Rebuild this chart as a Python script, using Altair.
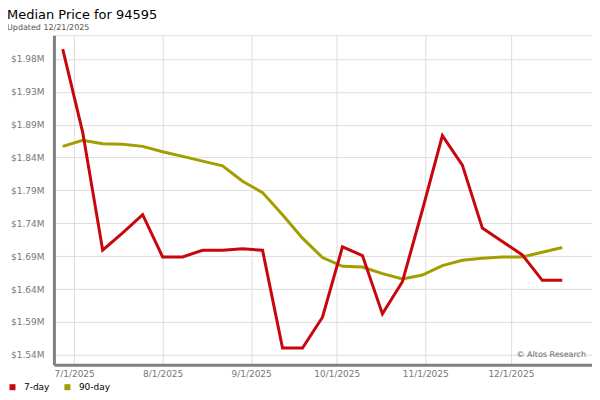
import altair as alt
import pandas as pd

# ---- data ----
dates = [
    "2025-06-27", "2025-07-04", "2025-07-11", "2025-07-18", "2025-07-25",
    "2025-08-01", "2025-08-08", "2025-08-15", "2025-08-22", "2025-08-29",
    "2025-09-05", "2025-09-12", "2025-09-19", "2025-09-26", "2025-10-03",
    "2025-10-10", "2025-10-17", "2025-10-24", "2025-10-31", "2025-11-07",
    "2025-11-14", "2025-11-21", "2025-11-28", "2025-12-05", "2025-12-12",
    "2025-12-19",
]
seven_day = [
    1998000, 1874000, 1698000, 1724000, 1751000, 1688000, 1688000, 1698000,
    1698000, 1700000, 1698000, 1552000, 1552000, 1598000, 1703000, 1690000,
    1603000, 1651000, 1758000, 1869000, 1825000, 1731000, 1711000, 1691000,
    1653000, 1653000,
]
ninety_day = [
    1853000, 1862000, 1857000, 1856000, 1853000, 1845000, 1838000, 1831000,
    1824000, 1801000, 1784000, 1751000, 1716000, 1687000, 1674000, 1673000,
    1663000, 1655000, 1661000, 1675000, 1683000, 1686000, 1688000, 1688000,
    1695000, 1702000,
]
series_names = ["7-day", "90-day"]
series_colors = ["#c8070d", "#a39e00"]
y_ticks = [1542000, 1591050, 1640100, 1689150, 1738200, 1787250,
           1836300, 1885350, 1934400, 1983450]
x_tick_months = [7, 8, 9, 10, 11, 12]

rows = []
for d, a, b in zip(dates, seven_day, ninety_day):
    rows.append({"date": d, "series": "7-day", "price": a})
    rows.append({"date": d, "series": "90-day", "price": b})
df = pd.DataFrame(rows)

FONT = "DejaVu Sans"

x_enc = alt.X(
    "date:T",
    scale=alt.Scale(
        type="utc",
        domain=[alt.DateTime(year=2025, month=6, date=23, hours=22, utc=True),
                alt.DateTime(year=2025, month=12, date=29, hours=10, utc=True)],
    ),
    axis=alt.Axis(
        values=[alt.DateTime(year=2025, month=m, date=1, utc=True) for m in x_tick_months],
        labelExpr="utcFormat(datum.value, '%-m/%-d/%Y')",
        title=None, ticks=False, labelPadding=5, labelFontSize=9,
        labelColor="#777", labelFont=FONT, domainColor="#808080",
        domainWidth=3, gridColor="#dddddd", labelFlush=False,
    ),
)
y_enc = alt.Y(
    "price:Q",
    scale=alt.Scale(domain=[1527100, 2018760], nice=False, zero=False),
    axis=alt.Axis(
        values=y_ticks,
        labelExpr="'$' + format(datum.value / 1000000, '.2f') + 'M'",
        title=None, ticks=False, labelPadding=10, labelFontSize=9,
        labelColor="#777", labelFont=FONT, domainColor="#808080",
        domainWidth=3, gridColor="#dddddd",
    ),
)
color_enc = alt.Color(
    "series:N",
    scale=alt.Scale(domain=series_names, range=series_colors),
    legend=alt.Legend(
        title=None, orient="none", legendX=-46, legendY=348,
        direction="horizontal", symbolType="square", symbolSize=9,
        symbolStrokeWidth=3, labelFontSize=9, labelFont=FONT,
        labelColor="#000", columnPadding=10, labelOffset=7,
    ),
)

base = alt.Chart(df)
green = base.transform_filter(alt.datum.series == "90-day").mark_line(
    strokeWidth=3, clip=True
).encode(x=x_enc, y=y_enc, color=color_enc)
red = base.transform_filter(alt.datum.series == "7-day").mark_line(
    strokeWidth=3, clip=True
).encode(x=x_enc, y=y_enc, color=color_enc)

credit = alt.Chart(pd.DataFrame({"t": ["© Altos Research"]})).mark_text(
    align="right", baseline="alphabetic", fontSize=8, font=FONT, color="#666"
).encode(text="t:N", x=alt.value(533), y=alt.value(322))

chart = alt.layer(green, red, credit).properties(
    width=539,
    height=330,
    autosize=alt.AutoSizeParams(type="none"),
    padding={"left": 46, "top": 27, "right": 0, "bottom": 35},
    title=alt.TitleParams(
        "Median Price for 94595",
        subtitle="Updated 12/21/2025",
        anchor="start", frame="group", dx=-47, font=FONT, fontSize=13,
        fontWeight="normal", color="#000", subtitleFont=FONT,
        subtitleFontSize=8, subtitleColor="#555", offset=3,
        subtitlePadding=2,
    ),
).configure_view(stroke="#dddddd", strokeWidth=1)

chart.save("out.html", embed_options={"renderer": "svg", "actions": False})
